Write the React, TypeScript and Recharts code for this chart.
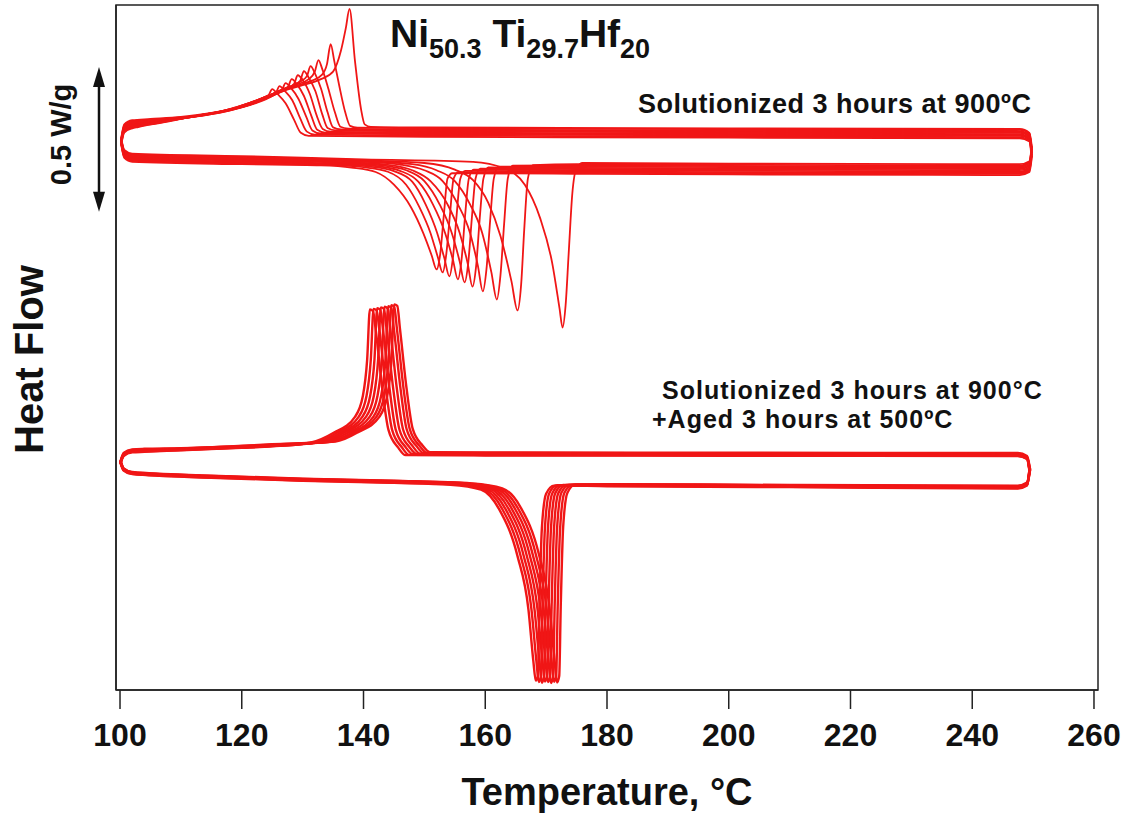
import React from "react";
import { LineChart, Line, XAxis, YAxis, ReferenceLine, ReferenceArea } from "recharts";

const RED = "#f01616";
const FONT = "'Liberation Sans', Arial, Helvetica, sans-serif";

const X_DOMAIN: [number, number] = [99.34, 260.66];
const Y_DOMAIN: [number, number] = [-0.076, 2.196];
const X_TICKS = [100, 120, 140, 160, 180, 200, 220, 240, 260];
const Y_TICKS = [0, 0.5, 1, 1.5, 2];

type Pt = [number, number]; // [temperature °C, heat flow W/g offset]

// --- solutionized sample: 10 thermal cycles (heating along lower branch, cooling along upper) ---
const TOP_CYCLE_1: Pt[] = [[100.2,1.755],[100.7,1.715],[102,1.703],[120,1.695],[140,1.684],[158,1.676],[163,1.655],[166.5,1.6],[169,1.49],[171,1.34],[172.2,1.19],[172.7,1.126],[173.2,1.2],[173.7,1.37],[174.3,1.57],[175,1.655],[176,1.672],[200,1.67],[247.8,1.668],[249.4,1.678],[249.8,1.725],[249.4,1.772],[247.8,1.785],[200,1.787],[150,1.79],[141.2,1.792],[140.2,1.8],[139.6,1.85],[138.6,2.01],[137.7,2.183],[137.1,2.12],[136.3,2.045],[135,1.975],[133,1.95],[130,1.93],[127,1.912],[124,1.888],[120,1.86],[115,1.838],[110,1.825],[105,1.818],[102,1.814],[100.7,1.8],[100.2,1.755]];
const TOP_CYCLE_2: Pt[] = [[100.2,1.752],[100.7,1.712],[102,1.7],[120,1.692],[140,1.681],[150,1.672],[155,1.65],[158,1.615],[160.5,1.54],[162.5,1.43],[164.3,1.28],[165.3,1.183],[165.9,1.27],[166.4,1.45],[167,1.62],[167.8,1.665],[175,1.668],[200,1.666],[247.8,1.664],[249.4,1.674],[249.75,1.722],[249.4,1.77],[247.8,1.782],[200,1.784],[150,1.787],[139,1.789],[137.8,1.795],[137,1.84],[136,1.93],[135.2,2.01],[134.6,2.066],[134,2.0],[133.2,1.965],[131.5,1.945],[129,1.928],[127,1.913],[124,1.885],[120,1.858],[115,1.836],[110,1.823],[105,1.815],[102,1.811],[100.7,1.797],[100.2,1.752]];
const TOP_CYCLE_3: Pt[] = [[100.2,1.75],[100.7,1.71],[102,1.697],[120,1.689],[140,1.678],[148,1.668],[152,1.648],[155,1.612],[157.5,1.535],[159.5,1.44],[161,1.31],[161.9,1.219],[162.5,1.3],[163.1,1.47],[163.7,1.62],[164.5,1.663],[175,1.664],[200,1.662],[247.8,1.66],[249.4,1.67],[249.7,1.72],[249.4,1.767],[247.8,1.778],[200,1.78],[150,1.783],[137.5,1.786],[136.2,1.792],[135.3,1.84],[134.2,1.92],[133.2,1.985],[132.6,2.013],[132,1.975],[131,1.95],[129,1.932],[127,1.915],[124,1.884],[120,1.856],[115,1.834],[110,1.82],[105,1.812],[102,1.808],[100.7,1.794],[100.2,1.75]];
const TOP_CYCLE_4: Pt[] = [[100.2,1.748],[100.7,1.707],[102,1.694],[120,1.686],[140,1.676],[146,1.667],[150,1.648],[153,1.612],[155.5,1.535],[157.5,1.44],[158.8,1.33],[159.6,1.246],[160.2,1.32],[160.8,1.48],[161.4,1.62],[162.2,1.66],[175,1.66],[200,1.658],[247.8,1.656],[249.4,1.666],[249.8,1.716],[249.4,1.764],[247.8,1.775],[200,1.777],[150,1.78],[136.3,1.783],[135,1.79],[134.1,1.84],[133,1.92],[132,1.97],[131.3,1.993],[130.7,1.96],[129.5,1.94],[127.5,1.922],[125,1.9],[122,1.87],[118,1.848],[113,1.83],[108,1.816],[104,1.809],[102,1.805],[100.7,1.791],[100.2,1.748]];
const TOP_CYCLE_5: Pt[] = [[100.2,1.745],[100.7,1.704],[102,1.691],[120,1.683],[138,1.674],[144,1.666],[148,1.648],[151,1.612],[153.8,1.535],[155.8,1.44],[157.1,1.34],[157.9,1.262],[158.5,1.33],[159.1,1.49],[159.7,1.62],[160.5,1.657],[175,1.656],[200,1.654],[247.8,1.652],[249.4,1.662],[249.7,1.712],[249.4,1.761],[247.8,1.772],[200,1.774],[150,1.777],[135.4,1.78],[134.1,1.788],[133.2,1.835],[132.1,1.91],[131,1.955],[130.2,1.977],[129.6,1.945],[128.5,1.93],[126.5,1.915],[124.5,1.895],[122,1.87],[118,1.846],[113,1.828],[108,1.814],[104,1.806],[102,1.802],[100.7,1.788],[100.2,1.745]];
const TOP_CYCLE_6: Pt[] = [[100.2,1.742],[100.7,1.701],[102,1.688],[120,1.68],[137,1.672],[143,1.664],[147,1.648],[150,1.612],[152.5,1.535],[154.5,1.44],[155.8,1.345],[156.6,1.276],[157.2,1.34],[157.8,1.49],[158.4,1.62],[159.2,1.653],[175,1.652],[200,1.65],[247.8,1.648],[249.4,1.658],[249.8,1.708],[249.4,1.757],[247.8,1.768],[200,1.77],[150,1.773],[134.6,1.776],[133.3,1.785],[132.3,1.83],[131.2,1.9],[130.1,1.945],[129.2,1.963],[128.6,1.935],[127.5,1.92],[125.5,1.905],[123.5,1.888],[121,1.865],[117,1.843],[112,1.825],[107,1.81],[104,1.803],[102,1.799],[100.7,1.785],[100.2,1.742]];
const TOP_CYCLE_7: Pt[] = [[100.2,1.74],[100.7,1.698],[102,1.685],[120,1.677],[136,1.67],[142,1.662],[146,1.646],[149,1.61],[151.4,1.535],[153.4,1.44],[154.7,1.35],[155.5,1.286],[156.1,1.35],[156.7,1.5],[157.3,1.62],[158.1,1.65],[175,1.648],[200,1.646],[247.8,1.644],[249.4,1.654],[249.7,1.705],[249.4,1.754],[247.8,1.765],[200,1.767],[150,1.77],[133.7,1.773],[132.4,1.782],[131.4,1.83],[130.2,1.895],[129.1,1.932],[128.2,1.95],[127.6,1.925],[126.5,1.912],[124.5,1.897],[122.5,1.88],[120,1.86],[116,1.84],[111,1.822],[106,1.807],[103,1.8],[102,1.796],[100.7,1.782],[100.2,1.74]];
const TOP_CYCLE_8: Pt[] = [[100.2,1.737],[100.7,1.695],[102,1.682],[120,1.674],[135,1.668],[141,1.66],[145,1.645],[148,1.61],[150.2,1.535],[152.1,1.44],[153.3,1.355],[154.1,1.296],[154.7,1.36],[155.3,1.5],[155.9,1.62],[156.7,1.646],[175,1.644],[200,1.642],[247.8,1.64],[249.4,1.65],[249.8,1.7],[249.4,1.75],[247.8,1.762],[200,1.764],[150,1.767],[132.9,1.77],[131.6,1.78],[130.6,1.825],[129.3,1.885],[128.1,1.92],[127.2,1.937],[126.6,1.915],[125.5,1.903],[123.5,1.888],[121.5,1.873],[119,1.855],[115,1.837],[110,1.82],[106,1.805],[103,1.797],[102,1.793],[100.7,1.779],[100.2,1.737]];
const TOP_CYCLE_9: Pt[] = [[100.2,1.735],[100.7,1.692],[102,1.679],[120,1.671],[134,1.666],[140,1.658],[144,1.643],[147,1.6],[149.2,1.525],[151,1.44],[152.2,1.36],[153,1.309],[153.6,1.37],[154.2,1.5],[154.8,1.62],[155.6,1.642],[175,1.64],[200,1.638],[247.8,1.636],[249.4,1.646],[249.7,1.697],[249.4,1.747],[247.8,1.758],[200,1.76],[150,1.763],[132,1.766],[130.7,1.776],[129.6,1.82],[128.3,1.88],[127.1,1.91],[126.2,1.927],[125.6,1.905],[124.5,1.895],[122.5,1.88],[120.5,1.866],[118,1.85],[114,1.833],[110,1.818],[106,1.803],[103,1.794],[102,1.79],[100.7,1.776],[100.2,1.735]];
const TOP_CYCLE_10: Pt[] = [[100.2,1.732],[100.7,1.689],[102,1.676],[120,1.668],[133,1.664],[138,1.657],[142,1.642],[145,1.6],[147.8,1.525],[149.8,1.44],[151.2,1.365],[152,1.319],[152.6,1.37],[153.2,1.5],[153.8,1.62],[154.6,1.638],[175,1.636],[200,1.634],[247.8,1.632],[249.4,1.642],[249.8,1.693],[249.4,1.743],[247.8,1.754],[200,1.756],[150,1.759],[131,1.762],[129.7,1.772],[128.6,1.815],[127.2,1.87],[125.9,1.9],[125,1.917],[124.4,1.897],[123.3,1.885],[121.5,1.872],[119.5,1.86],[117,1.845],[113,1.83],[109,1.815],[105,1.8],[103,1.791],[102,1.787],[100.7,1.773],[100.2,1.732]];

// --- solutionized + aged sample: 8 thermal cycles ---
const AGED_CYCLE_1: Pt[] = [[100.1,0.684],[100.6,0.659],[102,0.647],[115,0.635],[130,0.625],[145,0.618],[157.8,0.609],[162.8,0.593],[165.8,0.53],[168.8,0.375],[170.6,0.19],[171.4,0.02],[171.8,-0.051],[172.15,-0.03],[172.4,0.2],[172.8,0.465],[173.5,0.578],[174.8,0.606],[180,0.607],[210,0.604],[247.5,0.602],[249,0.612],[249.5,0.657],[249,0.7],[247.5,0.71],[200,0.711],[160,0.712],[150.9,0.713],[149.7,0.735],[148.1,0.789],[147.1,0.92],[146,1.12],[145.55,1.198],[145.05,1.203],[144.6,1.02],[143.9,0.9],[142.6,0.83],[139.1,0.779],[135.4,0.748],[125,0.739],[120,0.734],[110,0.726],[104,0.724],[102,0.722],[100.6,0.71],[100.1,0.684]];
const AGED_CYCLE_2: Pt[] = [[100.1,0.682],[100.6,0.658],[102,0.646],[115,0.634],[130,0.624],[145,0.617],[157.3,0.609],[162.3,0.592],[165.3,0.529],[168.3,0.374],[170.1,0.19],[170.9,0.02],[171.3,-0.049],[171.65,-0.03],[171.9,0.2],[172.3,0.46],[173,0.578],[174.3,0.605],[180,0.606],[210,0.603],[247.5,0.6],[249,0.61],[249.4,0.656],[249,0.698],[247.5,0.708],[200,0.709],[160,0.71],[150.4,0.711],[149.2,0.734],[147.6,0.789],[146.6,0.92],[145.5,1.12],[145.05,1.195],[144.55,1.2],[144.1,1.02],[143.4,0.9],[142.1,0.83],[138.6,0.779],[134.9,0.748],[125,0.738],[120,0.733],[110,0.725],[104,0.722],[102,0.72],[100.6,0.708],[100.1,0.682]];
const AGED_CYCLE_3: Pt[] = [[100.1,0.681],[100.6,0.657],[102,0.645],[115,0.633],[130,0.623],[145,0.616],[156.8,0.608],[161.8,0.592],[164.8,0.528],[167.8,0.373],[169.6,0.19],[170.4,0.02],[170.8,-0.053],[171.15,-0.03],[171.4,0.2],[171.8,0.46],[172.5,0.578],[173.8,0.605],[180,0.605],[210,0.602],[247.5,0.599],[249,0.609],[249.45,0.655],[249,0.697],[247.5,0.707],[200,0.708],[160,0.709],[149.9,0.71],[148.7,0.733],[147.1,0.788],[146.1,0.92],[145,1.12],[144.55,1.192],[144.05,1.197],[143.6,1.02],[142.9,0.9],[141.6,0.83],[138.1,0.778],[134.4,0.747],[125,0.737],[120,0.732],[110,0.724],[104,0.721],[102,0.719],[100.6,0.707],[100.1,0.681]];
const AGED_CYCLE_4: Pt[] = [[100.1,0.68],[100.6,0.656],[102,0.644],[115,0.632],[130,0.622],[145,0.615],[156.3,0.608],[161.3,0.591],[164.3,0.527],[167.3,0.372],[169.1,0.19],[169.9,0.02],[170.3,-0.05],[170.65,-0.03],[170.9,0.2],[171.3,0.46],[172,0.577],[173.3,0.604],[180,0.604],[210,0.601],[247.5,0.598],[249,0.608],[249.4,0.654],[249,0.695],[247.5,0.705],[200,0.706],[160,0.707],[149.3,0.708],[148.1,0.732],[146.5,0.788],[145.5,0.92],[144.4,1.12],[143.95,1.19],[143.45,1.195],[143,1.02],[142.3,0.9],[141,0.83],[137.5,0.778],[133.8,0.747],[125,0.736],[120,0.731],[110,0.723],[104,0.72],[102,0.718],[100.6,0.706],[100.1,0.68]];
const AGED_CYCLE_5: Pt[] = [[100.1,0.679],[100.6,0.655],[102,0.643],[115,0.631],[130,0.621],[145,0.614],[155.8,0.607],[160.8,0.591],[163.8,0.526],[166.8,0.371],[168.6,0.19],[169.4,0.02],[169.8,-0.048],[170.15,-0.03],[170.4,0.2],[170.8,0.46],[171.5,0.577],[172.8,0.604],[180,0.603],[210,0.6],[247.5,0.596],[249,0.606],[249.5,0.653],[249,0.694],[247.5,0.704],[200,0.705],[160,0.706],[148.7,0.707],[147.5,0.731],[145.9,0.788],[144.9,0.92],[143.8,1.12],[143.35,1.188],[142.85,1.193],[142.4,1.02],[141.7,0.9],[140.4,0.83],[136.9,0.778],[133.2,0.746],[125,0.735],[120,0.73],[110,0.722],[104,0.718],[102,0.716],[100.6,0.704],[100.1,0.679]];
const AGED_CYCLE_6: Pt[] = [[100.1,0.678],[100.6,0.654],[102,0.642],[115,0.63],[130,0.62],[145,0.613],[155.3,0.607],[160.3,0.59],[163.3,0.525],[166.3,0.37],[168.1,0.19],[168.9,0.02],[169.3,-0.052],[169.65,-0.03],[169.9,0.2],[170.3,0.46],[171,0.576],[172.3,0.603],[180,0.602],[210,0.599],[247.5,0.595],[249,0.605],[249.4,0.652],[249,0.693],[247.5,0.703],[200,0.704],[160,0.705],[148.1,0.706],[146.9,0.73],[145.3,0.787],[144.3,0.92],[143.2,1.12],[142.75,1.185],[142.25,1.19],[141.8,1.02],[141.1,0.9],[139.8,0.83],[136.3,0.777],[132.6,0.746],[125,0.734],[120,0.729],[110,0.721],[104,0.717],[102,0.715],[100.6,0.703],[100.1,0.678]];
const AGED_CYCLE_7: Pt[] = [[100.1,0.677],[100.6,0.653],[102,0.641],[115,0.629],[130,0.619],[145,0.612],[154.8,0.606],[159.8,0.59],[162.8,0.524],[165.8,0.369],[167.6,0.19],[168.4,0.02],[168.8,-0.05],[169.15,-0.03],[169.4,0.2],[169.8,0.46],[170.5,0.576],[171.8,0.603],[180,0.601],[210,0.598],[247.5,0.594],[249,0.604],[249.45,0.651],[249,0.691],[247.5,0.701],[200,0.702],[160,0.703],[147.5,0.704],[146.3,0.729],[144.7,0.787],[143.7,0.92],[142.6,1.12],[142.15,1.183],[141.65,1.188],[141.2,1.02],[140.5,0.9],[139.2,0.83],[135.7,0.777],[132,0.745],[125,0.733],[120,0.728],[110,0.72],[104,0.716],[102,0.714],[100.6,0.702],[100.1,0.677]];
const AGED_CYCLE_8: Pt[] = [[100.1,0.676],[100.6,0.652],[102,0.64],[115,0.628],[130,0.618],[145,0.611],[154.3,0.605],[159.3,0.589],[162.3,0.523],[165.3,0.368],[167.1,0.19],[167.9,0.02],[168.3,-0.045],[168.65,-0.03],[168.9,0.2],[169.3,0.46],[170,0.575],[171.3,0.602],[180,0.6],[210,0.597],[247.5,0.592],[249,0.602],[249.4,0.65],[249,0.69],[247.5,0.7],[200,0.701],[160,0.702],[146.9,0.703],[145.7,0.728],[144.1,0.787],[143.1,0.92],[142,1.12],[141.55,1.181],[141.05,1.186],[140.6,1.02],[139.9,0.9],[138.6,0.83],[135.1,0.777],[131.4,0.745],[125,0.732],[120,0.727],[110,0.719],[104,0.714],[102,0.712],[100.6,0.7],[100.1,0.676]];

const TOP_CYCLES: Pt[][] = [
  TOP_CYCLE_1, TOP_CYCLE_2, TOP_CYCLE_3, TOP_CYCLE_4, TOP_CYCLE_5,
  TOP_CYCLE_6, TOP_CYCLE_7, TOP_CYCLE_8, TOP_CYCLE_9, TOP_CYCLE_10
];
const AGED_CYCLES: Pt[][] = [
  AGED_CYCLE_1, AGED_CYCLE_2, AGED_CYCLE_3, AGED_CYCLE_4,
  AGED_CYCLE_5, AGED_CYCLE_6, AGED_CYCLE_7, AGED_CYCLE_8
];

// split each cycle at its hottest point: heating leg and cooling leg,
// each one monotone in temperature so a monotone curve can be used
function legs(c: Pt[]) {
  let m = 0;
  c.forEach((p, i) => {
    if (p[0] > c[m][0]) m = i;
  });
  const rows = (s: Pt[]) => s.map(([t, hf]) => ({ t, hf }));
  return [rows(c.slice(0, m + 1)), rows(c.slice(m))];
}

const SEGMENTS = [
  ...TOP_CYCLES.flatMap(legs).map((rows) => ({ rows, width: 1.8 })),
  ...AGED_CYCLES.flatMap(legs).map((rows) => ({ rows, width: 2.4 }))
];

// double arrow + "0.5 W/g" drawn between the 1.5 and 2.0 ticks
function ScaleBar(props: any) {
  const { x1, y1, y2 } = props;
  const x = x1 - 17;
  const top = Math.min(y1, y2) + 3;
  const bot = Math.max(y1, y2) - 3;
  const tx = x1 - 45;
  const ty = (y1 + y2) / 2 - 5;
  return (
    <g>
      <line x1={x} x2={x} y1={top + 14} y2={bot - 14} stroke="#111" strokeWidth={2.5} />
      <polygon points={`${x},${top} ${x - 6},${top + 20} ${x + 6},${top + 20}`} fill="#111" />
      <polygon points={`${x},${bot} ${x - 6},${bot - 20} ${x + 6},${bot - 20}`} fill="#111" />
      <text
        x={tx}
        y={ty}
        transform={`rotate(-90 ${tx} ${ty})`}
        textAnchor="middle"
        fontFamily={FONT}
        fontWeight={700}
        fontSize={29}
        fill="#111"
      >
        0.5 W/g
      </text>
    </g>
  );
}

export default function App() {
  const tickStyle = { fontSize: 32, fontWeight: 700, fill: "#111", fontFamily: FONT };
  return (
    <div style={{ position: "absolute", left: 0, top: 0, width: 1129, height: 814, background: "#fff" }}>
      <LineChart width={1129} height={814} margin={{ top: 5, right: 31, bottom: 0, left: 0 }}>
        <ReferenceArea
          x1={X_DOMAIN[0]}
          x2={X_DOMAIN[1]}
          y1={Y_DOMAIN[0]}
          y2={Y_DOMAIN[1]}
          fill="none"
          fillOpacity={0}
          stroke="#222"
          strokeWidth={1.5}
          ifOverflow="visible"
        />
        <XAxis
          type="number"
          dataKey="t"
          domain={X_DOMAIN}
          ticks={X_TICKS}
          allowDataOverflow
          height={124}
          tickSize={19}
          tickMargin={14}
          tick={tickStyle}
          axisLine={{ stroke: "#222", strokeWidth: 1.5 }}
          tickLine={{ stroke: "#222", strokeWidth: 1.5 }}
          label={(p: any) => {
            const vb = p.viewBox;
            return (
              <text
                x={vb.x + vb.width / 2}
                y={805}
                textAnchor="middle"
                fontFamily={FONT}
                fontWeight={700}
                fontSize={38}
                fill="#111"
              >
                Temperature, °C
              </text>
            );
          }}
        />
        <YAxis
          type="number"
          domain={Y_DOMAIN}
          ticks={Y_TICKS}
          allowDataOverflow
          width={116}
          tickSize={18}
          tick={false}
          axisLine={{ stroke: "#222", strokeWidth: 1.5 }}
          tickLine={{ stroke: "#222", strokeWidth: 1.5 }}
          label={(p: any) => {
            const vb = p.viewBox;
            const x = 43;
            const y = vb.y + vb.height / 2 + 12;
            return (
              <text
                x={x}
                y={y}
                transform={`rotate(-90 ${x} ${y})`}
                textAnchor="middle"
                fontFamily={FONT}
                fontWeight={700}
                fontSize={40}
                fill="#111"
              >
                Heat Flow
              </text>
            );
          }}
        />
        <ReferenceLine
          segment={[{ x: X_DOMAIN[0], y: 1.5 }, { x: X_DOMAIN[0], y: 2 }]}
          ifOverflow="visible"
          shape={ScaleBar}
        />
        {SEGMENTS.map((s, i) => (
          <Line
            key={i}
            data={s.rows}
            dataKey="hf"
            type="monotone"
            stroke={RED}
            strokeWidth={s.width}
            strokeLinejoin="round"
            strokeLinecap="round"
            dot={false}
            activeDot={false}
            isAnimationActive={false}
          />
        ))}
      </LineChart>
      <svg
        width={1129}
        height={814}
        style={{ position: "absolute", left: 0, top: 0, pointerEvents: "none" }}
        fontFamily={FONT}
        fontWeight={700}
        fill="#111"
      >
        <text x={390} y={47} fontSize={39}>
          Ni<tspan fontSize={27} dy={11}>50.3</tspan>
          <tspan dy={-11}> Ti</tspan>
          <tspan fontSize={27} dy={11}>29.7</tspan>
          <tspan dy={-11}>Hf</tspan>
          <tspan fontSize={27} dy={11}>20</tspan>
        </text>
        <text x={638} y={113} fontSize={27} letterSpacing={0.5}>Solutionized 3 hours at 900ºC</text>
        <text x={662} y={399} fontSize={25} letterSpacing={1}>Solutionized 3 hours at 900°C</text>
        <text x={652} y={428} fontSize={25} letterSpacing={1}>+Aged 3 hours at 500ºC</text>
      </svg>
    </div>
  );
}
